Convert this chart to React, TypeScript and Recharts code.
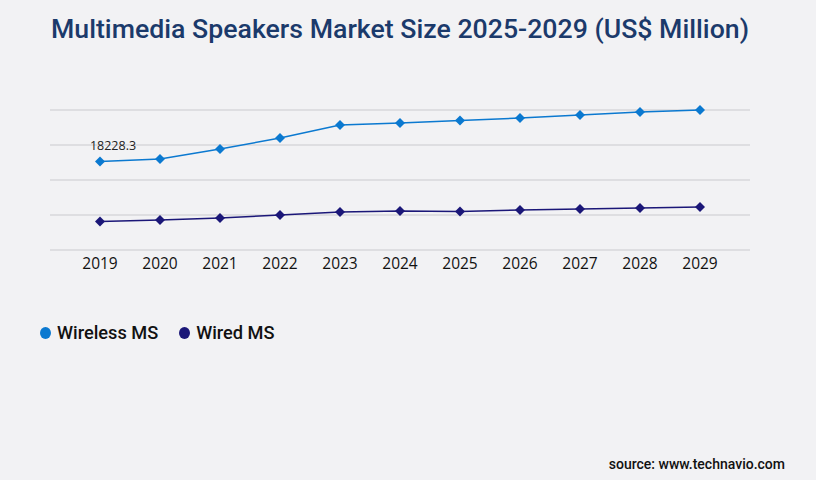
import { LineChart, Line, XAxis, YAxis, CartesianGrid, LabelList } from "recharts";

const years = ["2019", "2020", "2021", "2022", "2023", "2024", "2025", "2026", "2027", "2028", "2029"];
const wireless = [18228.3, 18720, 20780, 23040, 25710, 26130, 26660, 27150, 27770, 28390, 28800];
const wired = [5880, 6170, 6580, 7200, 7820, 8020, 7940, 8230, 8430, 8640, 8850];
const yTicks = [0, 7200, 14400, 21600, 28800];

const WIRELESS = "#0b79d0";
const WIRED = "#1b1778";

const data = years.map((year, i) => ({ year, wireless: wireless[i], wired: wired[i] }));

const Diamond = ({ cx, cy, fill }: any) => {
  if (cx == null || cy == null) return null;
  const r = 5;
  return (
    <polygon
      points={`${cx},${cy - r} ${cx + r},${cy} ${cx},${cy + r} ${cx - r},${cy}`}
      fill={fill}
    />
  );
};

const FirstLabel = ({ x, y, value, index }: any) => {
  if (index !== 0) return null;
  return (
    <text x={x + 13} y={y - 15} textAnchor="middle" dominantBaseline="middle" fontSize={12.5} fill="#222" fontFamily="'Open Sans', sans-serif">
      {value}
    </text>
  );
};

const legendItems = [
  ["Wireless MS", WIRELESS],
  ["Wired MS", WIRED],
];

export default function App() {
  return (
    <div style={{ position: "fixed", left: 0, top: 0, width: 816, height: 480, background: "#f2f2f4", overflow: "hidden" }}>
      <div style={{ position: "absolute", left: 0, top: 13, width: 800, textAlign: "center", fontFamily: "Roboto, sans-serif", fontWeight: 500, fontSize: 26.7, color: "#1b3a6b" }}>
        Multimedia Speakers Market Size 2025-2029 (US$ Million)
      </div>
      <div style={{ position: "absolute", left: 0, top: 0 }}>
        <LineChart width={816} height={290} data={data} margin={{ top: 110, right: 66, left: 50, bottom: 0 }}>
          <CartesianGrid vertical={false} stroke="#c9c9cd" strokeWidth={1.2} />
          <XAxis
            dataKey="year"
            axisLine={false}
            tickLine={false}
            padding={{ left: 50, right: 50 }}
            height={40}
            tick={{ fill: "#111", fontSize: 15.5, fontFamily: "'Open Sans', sans-serif" }}
            interval={0}
          />
          <YAxis hide domain={[0, 28800]} ticks={yTicks} interval={0} />
          <Line
            type="linear"
            dataKey="wireless"
            name="Wireless MS"
            stroke={WIRELESS}
            strokeWidth={1.5}
            dot={<Diamond fill={WIRELESS} />}
            activeDot={false}
            isAnimationActive={false}
          >
            <LabelList dataKey="wireless" content={<FirstLabel />} />
          </Line>
          <Line
            type="linear"
            dataKey="wired"
            name="Wired MS"
            stroke={WIRED}
            strokeWidth={1.5}
            dot={<Diamond fill={WIRED} />}
            activeDot={false}
            isAnimationActive={false}
          />
        </LineChart>
      </div>
      <div style={{ position: "absolute", left: 40, top: 322, display: "flex", alignItems: "center", fontFamily: "Roboto, sans-serif", fontSize: 18.2, fontWeight: 500, color: "#111" }}>
        {legendItems.map(([name, color]) => (
          <div key={name} style={{ display: "flex", alignItems: "center", marginRight: 21 }}>
            <span style={{ width: 11, height: 12, borderRadius: "50%", background: color, display: "inline-block", marginRight: 6 }} />
            <span>{name}</span>
          </div>
        ))}
      </div>
      <div style={{ position: "absolute", right: 31, top: 456, fontFamily: "Roboto, sans-serif", fontWeight: 500, fontSize: 14, color: "#111" }}>
        source: www.technavio.com
      </div>
    </div>
  );
}
